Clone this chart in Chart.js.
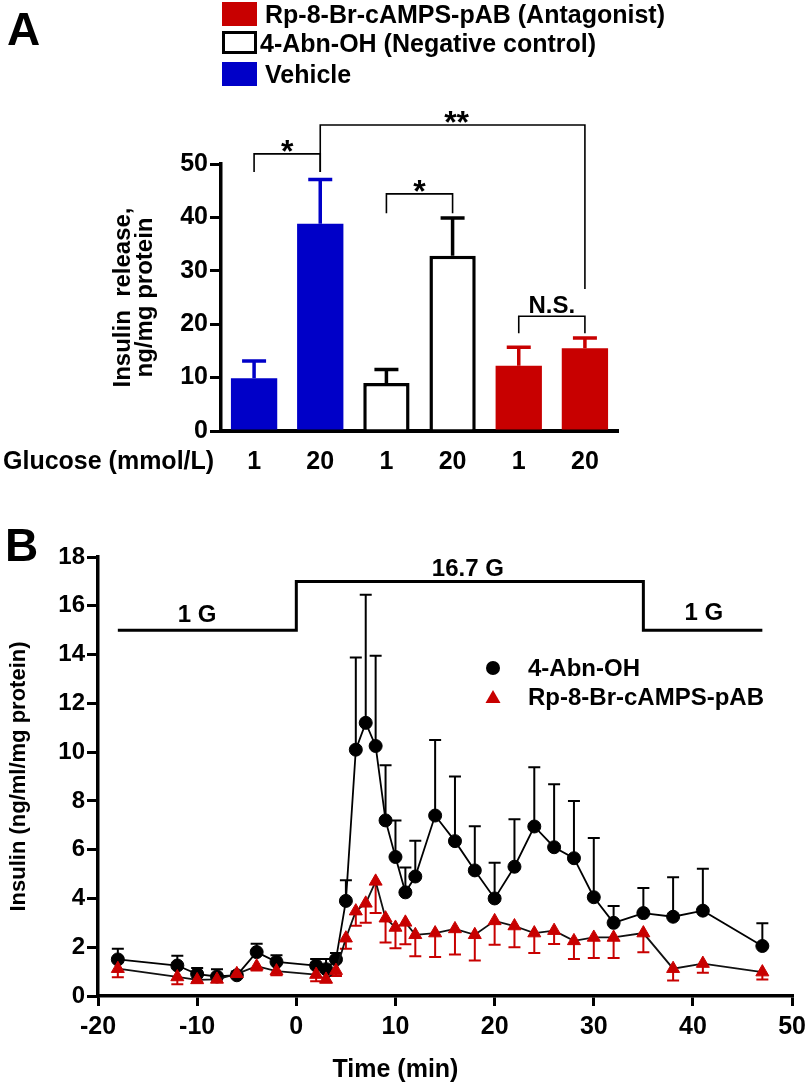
<!DOCTYPE html>
<html>
<head>
<meta charset="utf-8">
<title>Insulin release</title>
<script src="https://cdn.jsdelivr.net/npm/chart.js@4.4.0/dist/chart.umd.min.js"></script>
<style>
  body { margin: 0; background: #fff; font-family: 'Liberation Sans', Arial, sans-serif; }
  #wrap { position: relative; width: 812px; height: 1085px; overflow: hidden; }
  canvas { position: absolute; left: 0; }
  .txt { position: absolute; font-weight: bold; color: #000; white-space: nowrap; }
  .panel { font-size: 46px; line-height: 46px; }
  .leg { font-size: 25px; line-height: 30px; height: 30px; }
  .legB { font-size: 24px; line-height: 30px; height: 30px; }
  .sw { position: absolute; box-sizing: border-box; }
</style>
</head>
<body>
<div id="wrap">
  <canvas id="chartA" width="812" height="490" style="top:0"></canvas>
  <canvas id="chartB" width="812" height="595" style="top:490px"></canvas>

  <div class="txt panel" style="left:7px; top:6px;">A</div>
  <div class="txt panel" style="left:5px; top:522px;">B</div>

  <!-- legend, panel A -->
  <div class="sw" style="left:222px; top:2px; width:35px; height:24px; background:#c80000;"></div>
  <div class="txt leg" style="left:265px; top:-1px;">Rp-8-Br-cAMPS-pAB (Antagonist)</div>
  <div class="sw" style="left:222px; top:31px; width:35px; height:23px; border:3px solid #000; background:#fff;"></div>
  <div class="txt leg" style="left:260px; top:28px;">4-Abn-OH (Negative control)</div>
  <div class="sw" style="left:222px; top:62px; width:35px; height:24px; background:#0000c8;"></div>
  <div class="txt leg" style="left:265px; top:59px;">Vehicle</div>

  <!-- legend, panel B -->
  <div class="sw" style="left:486px; top:661px; width:14px; height:14px; border-radius:50%; background:#000;"></div>
  <div class="txt legB" style="left:528px; top:653px;">4-Abn-OH</div>
  <svg class="sw" style="left:485px; top:689px;" width="16" height="15"><polygon points="8,1 15.5,14 0.5,14" fill="#c80000"/></svg>
  <div class="txt legB" style="left:528px; top:682px;">Rp-8-Br-cAMPS-pAB</div>
</div>

<script>
// ---- Panel A data ----
const glucoseLabels = ['1', '20', '1', '20', '1', '20'];
const vehicleMean = [9.9, 38.8];
const vehicleSem = [3.2, 8.3];
const abnMean = [9.0, 32.8];
const abnSem = [2.5, 7.1];
const rpMean = [12.2, 15.5];
const rpSem = [3.5, 1.9];

// significance brackets: category indexes and heights (y units)
const brackets = [
  { from: 0, to: 1, top: 51.9, legL: 48.5, legR: 48.5, text: '*' },
  { from: 1, to: 5, top: 57.3, legL: 48.5, legR: 26.6, text: '**' },
  { from: 2, to: 3, top: 44.4, legL: 40.8, legR: 40.8, text: '*' },
  { from: 4, to: 5, top: 21.5, legL: 18.3, legR: 18.3, text: 'N.S.' }
];

// ---- Panel B data ----
const times = [-18, -12, -10, -8, -6, -4, -2, 2, 3, 4, 5, 6, 7, 8, 9, 10, 11, 12, 14, 16, 18, 20, 22, 24, 26, 28, 30, 32, 35, 38, 41, 47];
const abnB = [1.5, 1.25, 0.9, 0.8, 0.85, 1.8, 1.4, 1.25, 1.1, 1.5, 3.9, 10.1, 11.2, 10.25, 7.2, 5.7, 4.25, 4.9, 7.4, 6.35, 5.15, 4.0, 5.3, 6.95, 6.1, 5.65, 4.05, 3.0, 3.4, 3.25, 3.5, 2.05];
const abnSemB = [0.44, 0.4, 0.25, 0.3, 0.15, 0.34, 0.27, 0.27, 0.42, 0.26, 0.85, 3.78, 5.25, 3.7, 2.26, 1.5, 1.02, 1.47, 3.1, 2.65, 1.81, 1.46, 1.95, 2.43, 2.58, 2.35, 2.43, 0.69, 1.03, 1.62, 1.72, 0.93];
const rpB = [1.12, 0.78, 0.66, 0.68, 0.91, 1.22, 1.02, 0.88, 0.68, 1.04, 2.37, 3.48, 3.8, 4.7, 3.19, 2.81, 3.02, 2.51, 2.58, 2.75, 2.51, 3.08, 2.87, 2.58, 2.68, 2.26, 2.4, 2.4, 2.58, 1.12, 1.33, 0.98];
const rpSemB = [0.35, 0.3, 0.1, 0.1, 0.15, 0.17, 0.17, 0.28, 0.12, 0.22, 0.43, 0.6, 0.8, 1.3, 1.0, 0.85, 0.9, 0.88, 0.98, 1.05, 1.05, 0.98, 0.87, 0.82, 0.55, 0.74, 0.84, 0.84, 0.79, 0.48, 0.38, 0.3];
// glucose protocol bar drawn above the traces
const stepTimes = [-18, 0, 35, 47];
const stepLevels = [15, 17, 15, 15];
const stepLabels = [
  { x: -10, y: 15.62, text: '1 G' },
  { x: 17.3, y: 17.5, text: '16.7 G' },
  { x: 41.1, y: 15.7, text: '1 G' }
];

const blue = '#0000c8';
const red = '#c80000';
const FONT = "'Liberation Sans', Arial, sans-serif";

// ---- Panel A ----
const barMeans = [...vehicleMean, ...abnMean, ...rpMean];
const barSems = [...vehicleSem, ...abnSem, ...rpSem];
const barFill = [blue, blue, '#fff', '#fff', red, red];
const barEdge = [blue, blue, '#000', '#000', red, red];
const barEdgeW = [0, 0, 3.5, 3.5, 0, 0];

const annotateA = {
  id: 'annotateA',
  afterDatasetsDraw(chart) {
    const { ctx, scales: { x, y } } = chart;
    const meta = chart.getDatasetMeta(0);
    ctx.save();
    // error bars (upper only)
    barMeans.forEach((m, i) => {
      const el = meta.data[i];
      const top = y.getPixelForValue(m + barSems[i]);
      ctx.strokeStyle = barEdge[i];
      ctx.lineWidth = 3.5;
      ctx.beginPath();
      ctx.moveTo(el.x, el.y);
      ctx.lineTo(el.x, top);
      ctx.moveTo(el.x - 12, top);
      ctx.lineTo(el.x + 12, top);
      ctx.stroke();
    });
    // brackets
    ctx.strokeStyle = '#000';
    ctx.lineWidth = 1.6;
    ctx.fillStyle = '#000';
    ctx.textAlign = 'center';
    ctx.textBaseline = 'alphabetic';
    brackets.forEach(b => {
      const x1 = x.getPixelForValue(b.from);
      const x2 = x.getPixelForValue(b.to);
      const yt = y.getPixelForValue(b.top);
      ctx.beginPath();
      ctx.moveTo(x1, y.getPixelForValue(b.legL));
      ctx.lineTo(x1, yt);
      ctx.lineTo(x2, yt);
      ctx.lineTo(x2, y.getPixelForValue(b.legR));
      ctx.stroke();
      if (b.text === 'N.S.') {
        ctx.font = 'bold 24px ' + FONT;
        ctx.fillText(b.text, (x1 + x2) / 2, yt - 3);
      } else {
        ctx.font = 'bold 32px ' + FONT;
        ctx.fillText(b.text, (x1 + x2) / 2 + (b.text === '**' ? 4 : 0), yt + 8);
      }
    });
    // row label for the category axis
    ctx.font = 'bold 25px ' + FONT;
    ctx.textAlign = 'left';
    ctx.textBaseline = 'middle';
    ctx.fillText('Glucose (mmol/L)', 3, 462);
    ctx.restore();
  }
};

new Chart(document.getElementById('chartA'), {
  type: 'bar',
  data: {
    labels: glucoseLabels,
    datasets: [{
      data: barMeans,
      backgroundColor: barFill,
      borderColor: barEdge,
      borderWidth: barEdgeW,
      barPercentage: 0.7,
      categoryPercentage: 1.0
    }]
  },
  options: {
    responsive: false,
    animation: false,
    devicePixelRatio: 1,
    layout: { padding: { left: 105, right: 194, top: 164, bottom: 0 } },
    plugins: { legend: { display: false }, tooltip: { enabled: false } },
    scales: {
      x: {
        grid: { display: false, drawTicks: false },
        border: { display: true, color: '#000', width: 4 },
        ticks: { color: '#000', padding: 16, font: { family: FONT, size: 25, weight: 'bold' } },
        afterFit: s => { s.height = 59; }
      },
      y: {
        min: 0, max: 50,
        ticks: { stepSize: 10, color: '#000', padding: 2, font: { family: FONT, size: 25, weight: 'bold' } },
        grid: { drawOnChartArea: false, drawTicks: true, tickLength: 11, color: '#000', lineWidth: 3 },
        border: { display: true, color: '#000', width: 3.5 },
        title: {
          display: true,
          text: ['Insulin  release,', 'ng/mg protein'],
          color: '#000',
          padding: { top: 7, bottom: 0 },
          font: { family: FONT, size: 24, weight: 'bold', lineHeight: 0.92 }
        },
        afterFit: s => { s.width = 116; }
      }
    }
  },
  plugins: [annotateA]
});

// ---- Panel B ----
const errorBarsB = {
  id: 'errorBarsB',
  beforeDatasetsDraw(chart) {
    const { ctx, scales: { x, y } } = chart;
    ctx.save();
    chart.data.datasets.forEach(ds => {
      if (!ds.errs) return;
      ctx.strokeStyle = ds.errColor;
      ctx.lineWidth = 2;
      ds.data.forEach((p, i) => {
        const px = x.getPixelForValue(p.x);
        const py = y.getPixelForValue(p.y);
        const pe = y.getPixelForValue(p.y + ds.errDir * ds.errs[i]);
        ctx.beginPath();
        ctx.moveTo(px, py);
        ctx.lineTo(px, pe);
        ctx.moveTo(px - 6, pe);
        ctx.lineTo(px + 6, pe);
        ctx.stroke();
      });
    });
    ctx.restore();
  },
  afterDatasetsDraw(chart) {
    const { ctx, scales: { x, y } } = chart;
    ctx.save();
    ctx.fillStyle = '#000';
    ctx.font = 'bold 24px ' + FONT;
    ctx.textAlign = 'center';
    ctx.textBaseline = 'middle';
    stepLabels.forEach(l => ctx.fillText(l.text, x.getPixelForValue(l.x), y.getPixelForValue(l.y)));
    // axis title sits left of the plot centre in the original
    ctx.font = 'bold 25px ' + FONT;
    ctx.fillText('Time (min)', x.getPixelForValue(10), 580);
    ctx.restore();
  }
};

new Chart(document.getElementById('chartB'), {
  type: 'line',
  data: {
    datasets: [
      {
        label: 'Rp-8-Br-cAMPS-pAB',
        data: times.map((t, i) => ({ x: t, y: rpB[i] })),
        borderColor: '#111',
        borderWidth: 1.8,
        pointStyle: 'triangle',
        pointRadius: 7.5,
        pointBackgroundColor: red,
        pointBorderColor: red,
        pointBorderWidth: 1,
        errs: rpSemB, errDir: -1, errColor: red,
        order: 0
      },
      {
        label: '4-Abn-OH',
        data: times.map((t, i) => ({ x: t, y: abnB[i] })),
        borderColor: '#000',
        borderWidth: 1.8,
        pointStyle: 'circle',
        pointRadius: 6.5,
        pointBackgroundColor: '#000',
        pointBorderColor: '#000',
        pointBorderWidth: 1,
        errs: abnSemB, errDir: 1, errColor: '#000',
        order: 1
      },
      {
        label: 'glucose',
        data: stepTimes.map((t, i) => ({ x: t, y: stepLevels[i] })),
        stepped: true,
        borderColor: '#000',
        borderWidth: 3,
        pointRadius: 0,
        order: 2
      }
    ]
  },
  options: {
    responsive: false,
    animation: false,
    devicePixelRatio: 1,
    layout: { padding: { left: 0, right: 17, top: 67, bottom: 0 } },
    plugins: { legend: { display: false }, tooltip: { enabled: false } },
    scales: {
      x: {
        type: 'linear', min: -20, max: 50,
        ticks: { stepSize: 10, color: '#000', padding: 6, font: { family: FONT, size: 25, weight: 'bold' } },
        grid: { drawOnChartArea: false, drawTicks: true, tickLength: 10, color: '#000', lineWidth: 3 },
        border: { display: true, color: '#000', width: 3.5 },
        afterFit: s => { s.height = 89; }
      },
      y: {
        min: 0, max: 18,
        ticks: { stepSize: 2, color: '#000', padding: 2, font: { family: FONT, size: 24, weight: 'bold' } },
        grid: { drawOnChartArea: false, drawTicks: true, tickLength: 11, color: '#000', lineWidth: 3 },
        border: { display: true, color: '#000', width: 3.5 },
        title: {
          display: true, text: 'Insulin (ng/ml/mg protein)', color: '#000',
          padding: { top: 6, bottom: 0 },
          font: { family: FONT, size: 22, weight: 'bold' }
        },
        afterFit: s => { s.width = 98; }
      }
    }
  },
  plugins: [errorBarsB]
});
</script>
</body>
</html>
